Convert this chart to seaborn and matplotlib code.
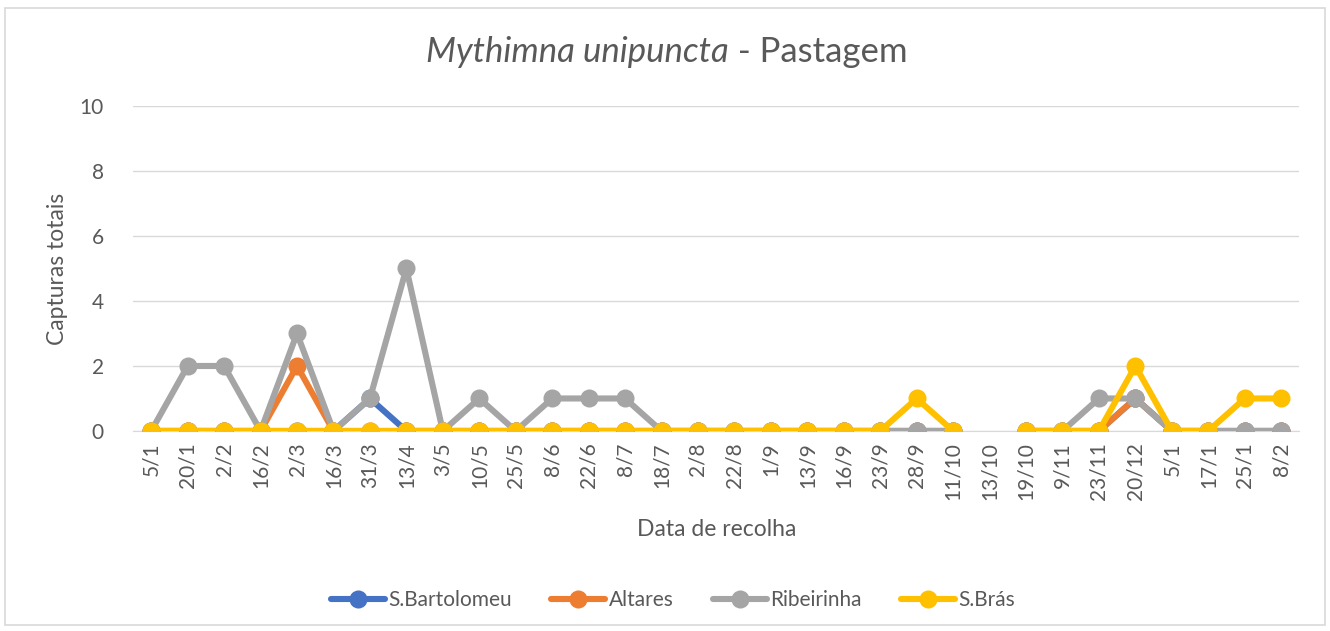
import numpy as np
import pandas as pd
import matplotlib.pyplot as plt
from matplotlib.patches import Rectangle
import seaborn as sns

# Dados: datas de recolha e capturas totais por local
datas = ['5/1', '20/1', '2/2', '16/2', '2/3', '16/3', '31/3', '13/4', '3/5', '10/5',
         '25/5', '8/6', '22/6', '8/7', '18/7', '2/8', '22/8', '1/9', '13/9', '16/9',
         '23/9', '28/9', '11/10', '13/10', '19/10', '9/11', '23/11', '20/12', '5/1',
         '17/1', '25/1', '8/2']
nan = np.nan
s_bartolomeu = [0, 0, 0, 0, 0, 0, 1, 0, 0, 0, 0, 0, 0, 0, 0, 0, 0, 0, 0, 0,
                0, 0, 0, nan, 0, 0, 0, 1, 0, 0, 0, 0]
altares = [0, 0, 0, 0, 2, 0, 0, 0, 0, 0, 0, 0, 0, 0, 0, 0, 0, 0, 0, 0,
           0, 0, 0, nan, 0, 0, 0, 1, 0, 0, 0, 0]
ribeirinha = [0, 2, 2, 0, 3, 0, 1, 5, 0, 1, 0, 1, 1, 1, 0, 0, 0, 0, 0, 0,
              0, 0, 0, nan, 0, 0, 1, 1, 0, 0, 0, 0]
s_bras = [0, 0, 0, 0, 0, 0, 0, 0, 0, 0, 0, 0, 0, 0, 0, 0, 0, 0, 0, 0,
          0, 1, 0, nan, 0, 0, 0, 2, 0, 0, 1, 1]

locais = ['S.Bartolomeu', 'Altares', 'Ribeirinha', 'S.Brás']
series = [s_bartolomeu, altares, ribeirinha, s_bras]
cores = ['#4472C4', '#ED7D31', '#A5A5A5', '#FFC000']

# Tabela longa; o segmento separa as partes antes e depois da falha (13/10)
linhas = []
for local, valores in zip(locais, series):
    seg = 0
    for i, v in enumerate(valores):
        if np.isnan(v):
            seg += 1
            continue
        linhas.append({'pos': i, 'capturas': v, 'local': local, 'segmento': seg})
df = pd.DataFrame(linhas)

sns.set_style('white')
plt.rcParams['font.family'] = ['Lato', 'DejaVu Sans']
cinza = '#595959'

fig = plt.figure(figsize=(13.3, 6.31), dpi=100)
ax = fig.add_axes([0.1, 0.317, 0.877, 0.515])

sns.lineplot(data=df, x='pos', y='capturas', hue='local', hue_order=locais,
             palette=cores, units='segmento', estimator=None, marker='o',
             ax=ax, legend=True)

# espessura das linhas e tamanho dos marcadores como no original
for ln in ax.lines:
    ln.set_linewidth(4.4)
    ln.set_markersize(13)
    ln.set_markeredgewidth(0)

ax.set_xlim(-0.5, len(datas) - 0.5)
ax.set_ylim(0, 10)
ax.set_yticks(range(0, 11, 2))
ax.set_xticks(range(len(datas)))
ax.set_xticklabels(datas, rotation=90)
ax.tick_params(axis='both', colors=cinza, labelsize=15, length=0)
ax.tick_params(axis='y', pad=21)
ax.tick_params(axis='x', pad=8)
ax.grid(axis='y', color='#D9D9D9', linewidth=1)
ax.set_axisbelow(True)
for s in ['top', 'right', 'left']:
    ax.spines[s].set_visible(False)
ax.spines['bottom'].set_color('#D9D9D9')
ax.spines['bottom'].set_zorder(0)

ax.set_xlabel('Data de recolha', fontsize=16.5, color=cinza, labelpad=14)
ax.set_ylabel('Capturas totais', fontsize=16.5, color=cinza, labelpad=8)

# título com o nome da espécie em itálico
fig.text(0.548, 0.918, 'Mythimna unipuncta', style='italic', ha='right',
         va='center', fontsize=25, color=cinza)
fig.text(0.548, 0.918, ' - Pastagem', ha='left', va='center',
         fontsize=25, color=cinza)

handles, labels = ax.get_legend_handles_labels()
for h in handles:
    h.set_linewidth(4.4)
    h.set_markersize(13)
    h.set_markeredgewidth(0)
ax.legend(handles, labels, loc='center', bbox_to_anchor=(0.506, 0.049),
          bbox_transform=fig.transFigure, ncol=4, frameon=False, fontsize=15,
          handlelength=2.6, handletextpad=0.15, columnspacing=1.9,
          labelcolor=cinza)

fig.add_artist(Rectangle((0.004, 0.01), 0.992, 0.978, transform=fig.transFigure,
                         fill=False, edgecolor='#D9D9D9', linewidth=1.2))

fig.savefig('out.png', dpi=100, facecolor='white')
